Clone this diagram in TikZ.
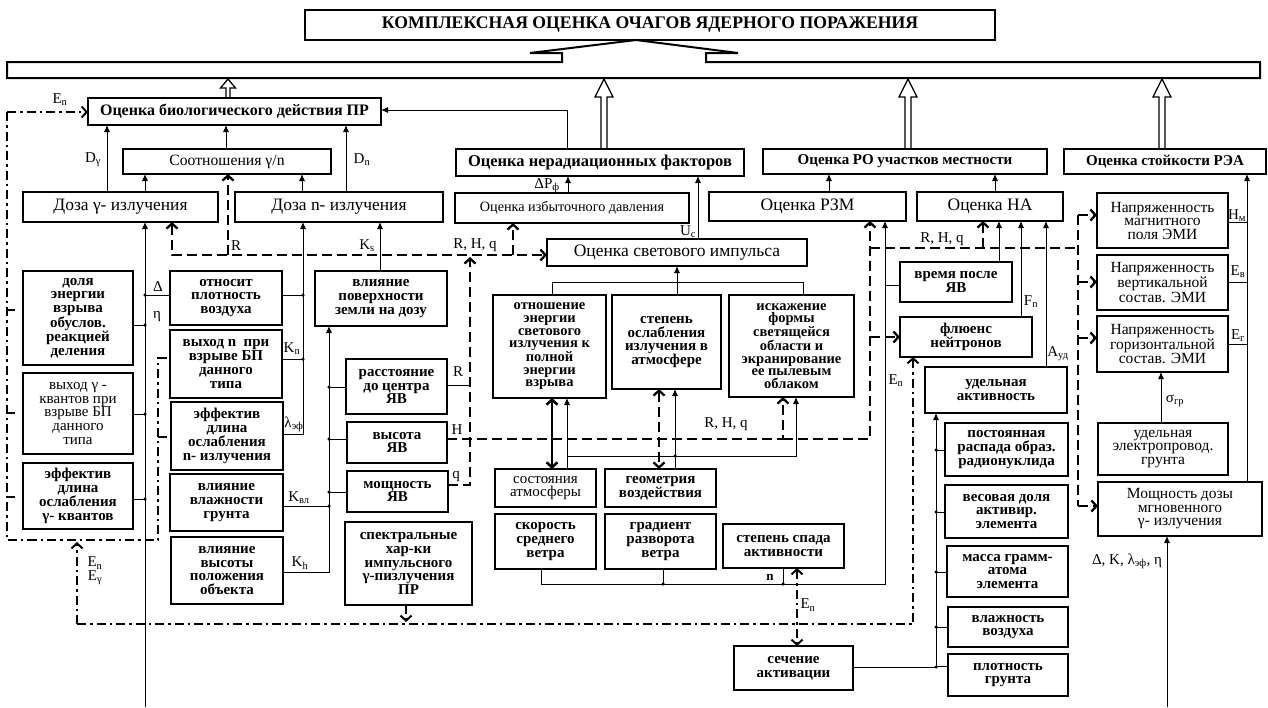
\documentclass[tikz,border=0pt]{standalone}
\usepackage{fontspec}
\setmainfont{Liberation Serif}
\usetikzlibrary{arrows.meta,calc}
\newcommand\sbs[1]{\textsubscript{#1}}
\newcommand\fsS{\fontsize{15}{13.8}\selectfont}
\newcommand\fsD{\fontsize{14.5}{12.6}\selectfont}
\newcommand\fsN{\fontsize{15.5}{13.5}\selectfont}
\newcommand\fz[1]{\fontsize{#1}{#1}\selectfont}
\newcommand\bx[7][]{\node[box,#1,minimum width={(#5-#3)*1pt},minimum height={(#6-#4)*1pt}] (#2) at ({(#3+#5)/2},{(#4+#6)/2}) {#7};}
% x, ybottom, ytop, shaft half width, head half width, head length
\newcommand\hollow[6]{\filldraw[fill=white,line width=1.3pt] (#1-#4,#2) -- (#1-#4,#3+#6) -- (#1-#5,#3+#6) -- (#1,#3) -- (#1+#5,#3+#6) -- (#1+#4,#3+#6) -- (#1+#4,#2);}
\tikzset{
 box/.style={draw, line width=1.6pt, inner sep=0pt, outer sep=0pt, align=center, font=\fsS\bfseries},
 nbox/.style={font=\fsS},
 dbox/.style={font=\fsD\bfseries},
 ebox/.style={font=\fsN},
 lab/.style={inner sep=0pt, font=\fz{15}},
 ln/.style={line width=0.85pt},
 arr/.style={ln, -{Latex[length=7pt,width=6pt]}},
 sb/.tip={Straight Barb[length=5pt,width=11pt]},
 tdash/.style={line width=2.3pt, dash pattern=on 10pt off 5pt},
 tarr/.style={tdash, -sb},
 ddot/.style={line width=2pt, dash pattern=on 9pt off 4pt on 2.5pt off 4pt},
 darr/.style={ddot, -sb},
 dot/.style={circle, fill, inner sep=0pt, minimum size=3.5pt},
}
\begin{document}
\begin{tikzpicture}[x=1pt,y=-1pt]
\fill[white] (0,0) rectangle (1268,707);
\useasboundingbox (0,0) rectangle (1268,707);
% title and bar
\bx[font=\fz{17.7}\bfseries,line width=2pt]{title}{305}{10}{995}{40}{КОМПЛЕКСНАЯ ОЦЕНКА ОЧАГОВ ЯДЕРНОГО ПОРАЖЕНИЯ}
\node[inner sep=0pt,outer sep=0pt,minimum width=1253pt,minimum height=16pt] (bar) at (633.5,70) {};
\draw[line width=2pt] (bar.north west) -- (562,62) -- (562,53) -- (530,53) -- (636,40) -- (738,53) -- (706,53) -- (706,62) -- (bar.north east) -- (bar.south east) -- (bar.south west) -- cycle;
% hollow arrows
\hollow{228}{98}{79}{2}{7.5}{9}
\hollow{604}{149}{79}{3}{9}{18}
\hollow{908}{149}{79}{3}{9}{18}
\hollow{1162}{149}{79}{3}{9}{18}
% boxes
\bx[font=\fz{16}\bfseries]{bio}{88}{98}{381}{125}{Оценка биологического действия ПР}
\bx[font=\fz{15.7}]{sootn}{123}{149}{331}{174}{Соотношения γ/n}
\bx[font=\fz{17.4}]{dg}{23}{192}{218}{222}{Доза γ- излучения}
\bx[font=\fz{17.4}]{dn}{235}{192}{443}{222}{Доза n- излучения}
\bx[font=\fz{16.5}\bfseries]{nr}{456}{149}{744}{176}{Оценка нерадиационных факторов}
\bx[font=\fz{14.2}]{izb}{455}{193}{689}{223}{Оценка избыточного давления}
\bx[font=\fz{15}\bfseries]{ro}{763}{149}{1047}{174}{Оценка РО участков местности}
\bx[font=\fz{17.5}]{rzm}{709}{192}{906}{221}{Оценка РЗМ}
\bx[font=\fz{17.5}]{na}{917}{192}{1063}{221}{Оценка НА}
\bx[font=\fz{15}\bfseries]{stoy}{1064}{149}{1266}{174}{Оценка стойкости РЭА}
\bx[ebox]{magn}{1097}{193}{1228}{248}{Напряженность\\магнитного\\поля ЭМИ}
\bx[ebox]{vert}{1097}{255}{1228}{310}{Напряженность\\вертикальной\\состав. ЭМИ}
\bx[ebox]{gor}{1097}{316}{1228}{372}{Напряженность\\горизонтальной\\состав. ЭМИ}
\bx[ebox]{elpr}{1098}{423}{1228}{475}{удельная\\электропровод.\\грунта}
\bx[ebox]{moshd}{1098}{482}{1262}{536}{Мощность дозы\\мгновенного\\γ- излучения}
\bx{dolya}{23}{271}{133}{365}{доля\\энергии\\взрыва\\обуслов.\\реакцией\\деления}
\bx[nbox]{vyhg}{23}{373}{133}{454}{выход γ -\\квантов при\\взрыве БП\\данного\\типа}
\bx{effg}{23}{463}{133}{529}{эффектив\\длина\\ослабления\\γ- квантов}
\bx{otn}{170}{271}{282}{325}{относит\\плотность\\воздуха}
\bx{vyhn}{170}{330}{282}{398}{выход n~ при\\взрыве БП\\данного\\типа}
\bx{effn}{171}{402}{283}{470}{эффектив\\длина\\ослабления\\n- излучения}
\bx{vlazhg}{170}{474}{283}{531}{влияние\\влажности\\грунта}
\bx{vysob}{171}{537}{283}{604}{влияние\\высоты\\положения\\объекта}
\bx{vlpov}{315}{271}{447}{326}{влияние\\поверхности\\земли на дозу}
\bx{rasst}{346}{359}{447}{414}{расстояние\\до центра\\ЯВ}
\bx{vys}{347}{422}{447}{463}{высота\\ЯВ}
\bx{moshy}{347}{471}{448}{512}{мощность\\ЯВ}
\bx[line width=2.2pt]{spec}{345}{522}{472}{605}{спектральные\\хар-ки\\импульсного\\γ-пизлучения\\ПР}
\bx[font=\fz{17.5}]{svet}{547}{239}{807}{266}{Оценка светового импульса}
\bx[dbox]{otnosh}{493}{295}{606}{398}{отношение\\энергии\\светового\\излучения к\\полной\\энергии\\взрыва}
\bx{step}{612}{295}{721}{389}{степень\\ослабления\\излучения в\\атмосфере}
\bx[dbox]{isk}{729}{295}{854}{397}{искажение\\формы\\светящейся\\области и\\экранирование\\ее пылевым\\облаком}
\bx[nbox]{sost}{495}{469}{596}{507}{состояния\\атмосферы}
\bx{geom}{605}{469}{716}{507}{геометрия\\воздействия}
\bx{skor}{495}{514}{596}{569}{скорость\\среднего\\ветра}
\bx{grad}{605}{514}{716}{569}{градиент\\разворота\\ветра}
\bx{spad}{723}{524}{844}{568}{степень спада\\активности}
\bx{time}{900}{262}{1012}{302}{время после\\ЯВ}
\bx{flu}{900}{317}{1032}{357}{флюенс\\нейтронов}
\bx{uda}{925}{367}{1067}{413}{удельная\\активность}
\bx{post}{945}{423}{1068}{476}{постоянная\\распада образ.\\радионуклида}
\bx{ves}{945}{485}{1068}{538}{весовая доля\\активир.\\элемента}
\bx{massa}{947}{546}{1068}{597}{масса грамм-\\атома\\элемента}
\bx{vlv}{948}{607}{1068}{647}{влажность\\воздуха}
\bx{plg}{948}{654}{1068}{696}{плотность\\грунта}
\bx{sech}{734}{646}{853}{690}{сечение\\активации}
% named free ends
\coordinate (b145) at (145,707);
\coordinate (b1167) at (1167,707);
% thin connectors, left part
\draw[arr] (b145) -- (145,0 |- dg.south);
\draw[ln] (dolya.east |- 0,325) -- (145,325);
\draw[ln] (vyhg.east |- 0,414) -- (145,414);
\draw[ln] (effg.east |- 0,499) -- (145,499);
\draw[ln] (otn.west |- 0,295) -- (145,295);
\foreach \yy in {295,325,414,499} \node[dot] (d145-\yy) at (145,\yy) {};
\draw[arr] (effn.east |- 0,434) -- (303,434) -- (303,0 |- dn.south);
\draw[ln] (otn.east |- 0,295) -- (303,295);
\draw[ln] (vyhn.east |- 0,359) -- (303,359);
\foreach \yy in {295,359} \node[dot] (d303-\yy) at (303,\yy) {};
\draw[arr] (vysob.east |- 0,572) -- (329,572) -- (329,0 |- vlpov.south);
\draw[ln] (vlazhg.east |- 0,506) -- (329,506);
\draw[ln] (rasst.west |- 0,387) -- (329,387);
\draw[ln] (vys.west |- 0,439) -- (329,439);
\draw[ln] (moshy.west |- 0,492) -- (329,492);
\foreach \yy in {387,439,492,506} \node[dot] (d329-\yy) at (329,\yy) {};
\draw[arr] (380,0 |- vlpov.north) -- (380,0 |- dn.south);
% upper arrows
\draw[arr] (107,0 |- dg.north) -- (107,0 |- bio.south);
\draw[arr] (145,0 |- dg.north) -- (145,0 |- sootn.south);
\draw[arr] (302,0 |- dn.north) -- (302,0 |- sootn.south);
\draw[arr] (346,0 |- dn.north) -- (346,0 |- bio.south);
\draw[arr] (226,0 |- sootn.north) -- (226,0 |- bio.south);
\draw[arr] (567,0 |- nr.north) -- (567,110) -- (bio.east |- 0,110);
\draw[arr] (568,0 |- izb.north) -- (568,0 |- nr.south);
\draw[arr] (698,0 |- svet.north) -- (698,0 |- nr.south);
\draw[arr] (829,0 |- rzm.north) -- (829,0 |- ro.south);
\draw[arr] (995,0 |- na.north) -- (995,0 |- ro.south);
\draw[arr] (1247,0 |- moshd.north) -- (1247,0 |- stoy.south);
\draw[ln] (magn.east |- 0,222) -- (1247,222);
\draw[ln] (vert.east |- 0,282) -- (1247,282);
\draw[ln] (gor.east |- 0,344) -- (1247,344);
\draw[arr] (1161,0 |- elpr.north) -- (1161,0 |- gor.south);
\draw[arr] (b1167) -- (1167,0 |- moshd.south);
% light impulse
\draw[arr] (677,0 |- step.north) -- (677,0 |- svet.south);
\draw[ln] (552,0 |- otnosh.north) -- (552,282) -- (803,282) -- (803,0 |- isk.north);
\draw[arr] (567,0 |- sost.north) -- (567,0 |- otnosh.south);
\draw[arr] (675,0 |- geom.north) -- (675,0 |- step.south);
\draw[arr] (567,456) -- (796,456) -- (796,0 |- isk.south);
\node[dot] (d675) at (675,456) {};
\draw[line width=2.5pt,sb-sb] (552,0 |- otnosh.south) -- (552,0 |- sost.north);
\draw[tdash,sb-sb] (659,0 |- step.south) -- (659,0 |- geom.north);
% bottom bus
\draw[arr] (541,0 |- skor.south) -- (541,584) -- (885,584) -- (885,0 |- rzm.south);
\draw[ln] (663,0 |- grad.south) -- (663,584);
\draw[ln] (783,0 |- spad.south) -- (783,584);
\node[dot] (d663) at (663,584) {};
\node[dot] (d783) at (783,584) {};
\draw[ln] (time.west |- 0,285) -- (885,285);
\draw[arr] (999,0 |- time.north) -- (999,0 |- na.south);
\draw[arr] (1021,0 |- flu.north) -- (1021,0 |- na.south);
\draw[arr] (1046,0 |- uda.north) -- (1046,0 |- na.south);
% activity bus
\draw[arr] (sech.east |- 0,667) -- (936,667) -- (936,0 |- uda.south);
\draw[ln] (post.west |- 0,450) -- (936,450);
\draw[ln] (ves.west |- 0,512) -- (936,512);
\draw[ln] (massa.west |- 0,572) -- (936,572);
\draw[ln] (vlv.west |- 0,627) -- (936,627);
\draw[ln] (plg.west |- 0,666) -- (936,666);
\foreach \yy in {450,512,572,627,667} \node[dot] (d936-\yy) at (936,\yy) {};
% thick dashed
\draw[tdash,sb-sb] (172,0 |- dg.south) -- (172,255) -- (svet.west |- 0,255);
\draw[tarr] (228,255) -- (228,0 |- sootn.south);
\draw[tarr] (513,255) -- (513,0 |- izb.south);
\draw[tarr] (moshy.east |- 0,485) -- (470,485) -- (470,257);
\draw[ln] (rasst.east |- 0,385) -- (470,385);
\draw[tarr] (vys.east |- 0,439) -- (783,439) -- (783,0 |- isk.south);
\draw[tarr] (783,439) -- (870,439) -- (870,0 |- rzm.south);
\draw[tarr] (870,337) -- (flu.west |- 0,337);
\draw[tdash] (870,248) -- (1078,248);
\draw[tarr] (983,248) -- (983,0 |- na.south);
\draw[tdash] (1078,215) -- (1078,506);
\draw[tarr] (1078,215) -- (magn.west |- 0,215);
\draw[tarr] (1078,282) -- (vert.west |- 0,282);
\draw[tarr] (1078,338) -- (gor.west |- 0,338);
\draw[tarr] (1078,506) -- (moshd.west |- 0,506);
% dash-dot
\draw[darr] (7,112) -- (bio.west |- 0,112);
\draw[ddot] (7,112) -- (7,540) -- (158,540) -- (158,358) -- (vyhn.west |- 0,358);
\draw[ddot] (158,437) -- (effn.west |- 0,437);
\draw[line width=2pt] (7,310) -- (15,310) (7,413) -- (15,413) (7,497) -- (15,497);
\draw[darr] (77,624) -- (77,542);
\draw[darr] (77,624) -- (913,624) -- (913,0 |- flu.south);
\draw[darr] (406,0 |- spec.south) -- (406,622);
\draw[ddot,sb-sb] (797,0 |- spad.south) -- (797,0 |- sech.north);
% labels
\node[lab] (l1) at (60,100) {E\sbs{n}};
\node[lab] (l2) at (93,160) {D\sbs{γ}};
\node[lab] (l3) at (362,160) {D\sbs{n}};
\node[lab] (l4) at (547,186) {ΔP\sbs{ф}};
\node[lab] (l5) at (688,232) {U\sbs{c}};
\node[lab] (l6) at (236,246) {R};
\node[lab] (l7) at (367,246) {K\sbs{s}};
\node[lab] (l8) at (475,245) {R, H, q};
\node[lab] (l9) at (158,287) {Δ};
\node[lab] (l10) at (157,317) {η};
\node[lab] (l11) at (292,349) {K\sbs{n}};
\node[lab] (l12) at (294,424) {λ\sbs{эф}};
\node[lab] (l13) at (299,498) {K\sbs{вл}};
\node[lab] (l14) at (300,563) {K\sbs{h}};
\node[lab] (l15) at (458,372) {R};
\node[lab] (l16) at (457,430) {H};
\node[lab] (l17) at (456,476) {q};
\node[lab] (l18) at (726,424) {R, H, q};
\node[lab] (l19) at (942,239) {R, H, q};
\node[lab] (l20) at (896,381) {E\sbs{n}};
\node[lab] (l21) at (1031,302) {F\sbs{n}};
\node[lab] (l22) at (1058,354) {A\sbs{уд}};
\node[lab] (l23) at (1237,216) {H\sbs{м}};
\node[lab] (l24) at (1238,272) {E\sbs{в}};
\node[lab] (l25) at (1238,336) {E\sbs{г}};
\node[lab] (l26) at (1175,401) {σ\sbs{гр}};
\node[lab] (l27) at (1127,561) {Δ, K, λ\sbs{эф}, η};
\node[lab] (l28) at (95,563) {E\sbs{n}};
\node[lab] (l29) at (95,578) {E\sbs{γ}};
\node[lab,font=\fz{13}\bfseries] (l30) at (770,577) {n};
\node[lab] (l31) at (808,605) {E\sbs{n}};
\end{tikzpicture}
\end{document}
